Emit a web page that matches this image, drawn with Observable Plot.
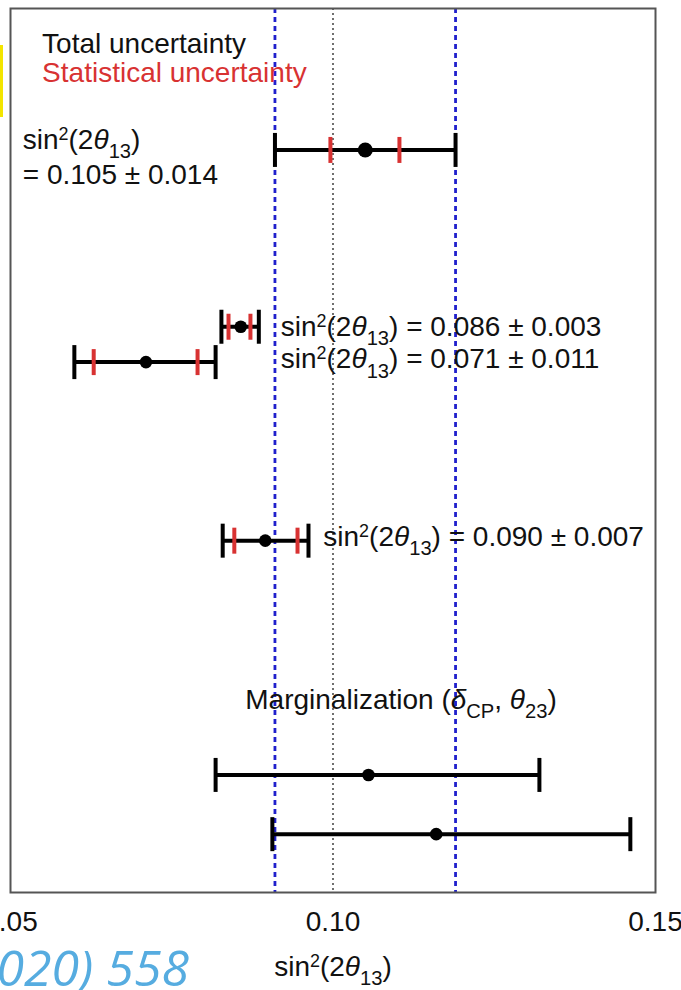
<!DOCTYPE html>
<html><head><meta charset="utf-8">
<script src="https://cdn.jsdelivr.net/npm/d3@7"></script>
<script src="https://cdn.jsdelivr.net/npm/@observablehq/plot@0.6"></script>
<style>
html,body{margin:0;padding:0;background:#fff;}
#wrap{position:relative;width:681px;height:990px;overflow:hidden;background:#fff;}
#chart svg{display:block;}
#yellow{position:absolute;left:0;top:45px;width:3px;height:72px;background:#f3e500;}
</style></head><body>
<div id="wrap"><div id="chart"></div><div id="yellow"></div></div>
<script>
// ---- data ----
const rowIds  = ["r1", "r2", "r3", "r4", "r5", "r6"];
const rowPos  = [8.40, 6.40, 6.00, 3.98, 1.33, 0.66];
const best    = [0.1050, 0.0857, 0.0710, 0.0895, 0.1055, 0.1160];
const totLo   = [0.0910, 0.0827, 0.0599, 0.0829, 0.0818, 0.0906];
const totHi   = [0.1190, 0.0885, 0.0818, 0.0962, 0.1320, 0.1461];
const statLo  = [0.0996, 0.0838, 0.0629, 0.0847, null, null];
const statHi  = [0.1103, 0.0872, 0.0790, 0.0945, null, null];

const bandLines = [0.091, 0.119];
const refLine = [0.10];
const xTicks = [0.05, 0.10, 0.15];

const legendLabels = ["Total uncertainty", "Statistical uncertainty"];
const legendX = [0.0549, 0.0549];
const legendY = [9.50, 9.17];

const noteLabels = [
  "sin^{2}(2θ_{13})",
  "= 0.105 ± 0.014",
  "sin^{2}(2θ_{13}) = 0.086 ± 0.003",
  "sin^{2}(2θ_{13}) = 0.071 ± 0.011",
  "sin^{2}(2θ_{13}) = 0.090 ± 0.007",
  "Marginalization (δ_{CP}, θ_{23})"
];
const noteX = [0.0519, 0.0519, 0.0919, 0.0919, 0.0985, 0.0864];
const noteY = [8.41, 8.01, 6.30, 5.93, 3.925, 2.08];

const xLabel = "sin^{2}(2θ_{13})";
const citeText = "020) 558";

// ---- derived tables ----
const rows = rowIds.map((id, i) => ({id, y: rowPos[i], best: best[i], lo: totLo[i], hi: totHi[i], slo: statLo[i], shi: statHi[i]}));
const statRows = rows.filter(d => d.slo != null);
const capEnds = rows.flatMap(d => [{x: d.lo, y: d.y}, {x: d.hi, y: d.y}]);
const statEnds = statRows.flatMap(d => [{x: d.slo, y: d.y}, {x: d.shi, y: d.y}]);
const legend = legendLabels.map((t, i) => ({t, x: legendX[i], y: legendY[i], i}));
const notes = noteLabels.map((t, i) => ({t, x: noteX[i], y: noteY[i]}));

const RED = "#d83232";
const BLUE = "#2020cc";
const vbar = {draw(ctx, size) { const h = Math.sqrt(size / Math.PI); ctx.moveTo(0, -h); ctx.lineTo(0, h); }};

const chart = Plot.plot({
  width: 681, height: 990,
  marginLeft: 10, marginRight: 26, marginTop: 8, marginBottom: 98,
  style: {fontFamily: "'Liberation Sans', Arial, sans-serif", fontSize: "28px", background: "white", overflow: "visible"},
  x: {domain: [0.05, 0.15]},
  y: {domain: [0, 10], axis: null},
  r: {type: "identity"},
  marks: [
    Plot.ruleX(bandLines, {stroke: BLUE, strokeWidth: 2.8, strokeDasharray: "5,4"}),
    Plot.ruleX(refLine, {stroke: "#111", strokeWidth: 1.2, strokeDasharray: "2,3"}),
    Plot.ruleY(rows, {y: "y", x1: "lo", x2: "hi", stroke: "black", strokeWidth: 4}),
    Plot.dot(statEnds, {x: "x", y: "y", symbol: vbar, r: 13, stroke: RED, strokeWidth: 4, fill: "none"}),
    Plot.dot(capEnds, {x: "x", y: "y", symbol: vbar, r: 17, stroke: "black", strokeWidth: 4, fill: "none"}),
    Plot.dot(rows, {x: "best", y: "y", r: (d, i) => i === 0 ? 7.5 : 6.3, fill: "black", stroke: "none"}),
    Plot.text(legend, {x: "x", y: "y", text: "t", textAnchor: "start", lineAnchor: "bottom", fontSize: 28, fill: d => d.i ? RED : "#111"}),
    Plot.text(notes, {x: "x", y: "y", text: "t", textAnchor: "start", lineAnchor: "bottom", fontSize: 28, fill: "#111"}),
    Plot.axisX({ticks: xTicks, tickFormat: d3.format(".2f"), tickSize: 0, tickPadding: 19, fontSize: 28, label: null, fill: "#111"}),
    Plot.text([xLabel], {frameAnchor: "bottom", text: d => d, dy: 83, lineAnchor: "bottom", textAnchor: "middle", fontSize: 28, fill: "#111"}),
    Plot.text([citeText], {frameAnchor: "bottom-left", text: d => d, dx: -14, dy: 93, lineAnchor: "bottom", textAnchor: "start", fontSize: 50, fontStyle: "italic", fontFamily: "'Open Sans', sans-serif", fill: "#56ace0"}),
    Plot.frame({stroke: "#555", strokeWidth: 2})
  ]
});
document.getElementById("chart").appendChild(chart);

function richify(svg) {
  svg.querySelectorAll("text").forEach(t => {
    if (t.querySelector("tspan")) return;
    const s = t.textContent;
    if (!/[\^_θδ]/.test(s)) return;
    const fs = parseFloat(getComputedStyle(t).fontSize) || 28;
    const parts = s.split(/(\^\{[^}]*\}|_\{[^}]*\}|[θδ])/).filter(p => p !== "");
    t.textContent = "";
    let cur = 0;
    for (const p of parts) {
      let txt = p, size = null, off = 0, italic = false;
      if (p.startsWith("^{")) { txt = p.slice(2, -1); size = 0.64; off = -0.32; }
      else if (p.startsWith("_{")) { txt = p.slice(2, -1); size = 0.72; off = 0.33; }
      else if (p === "θ" || p === "δ") { italic = true; }
      const ts = document.createElementNS("http://www.w3.org/2000/svg", "tspan");
      const target = off * fs;
      if (target !== cur) ts.setAttribute("dy", (target - cur).toFixed(2));
      cur = target;
      if (size) ts.setAttribute("font-size", (size * fs).toFixed(2));
      if (italic) ts.setAttribute("font-style", "italic");
      ts.textContent = txt;
      t.appendChild(ts);
    }
  });
}
richify(chart);
</script>
</body></html>
